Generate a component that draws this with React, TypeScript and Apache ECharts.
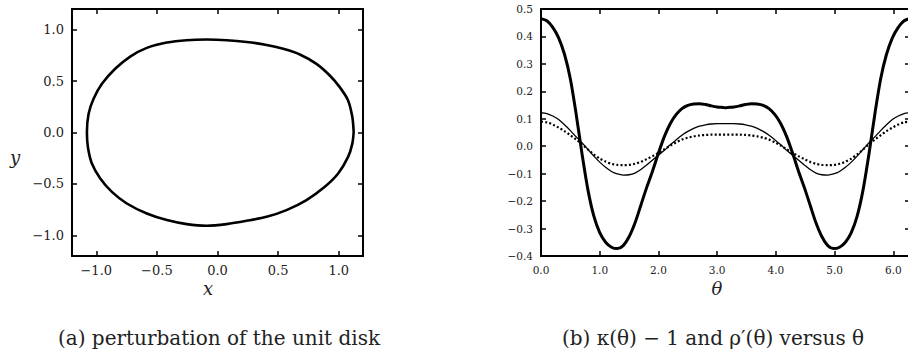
import React, { useEffect, useRef } from "react";
import * as echarts from "echarts";

// (a) perturbation of the unit disk: points along the closed curve
const diskX = [1.123, 1.112, 1.077, 1.008, 0.926, 0.816, 0.679, 0.542, 0.405, 0.24, 0.075, -0.089, -0.254, -0.418, -0.583, -0.72, -0.844, -0.953, -1.022, -1.063, -1.077, -1.069, -1.036, -0.967, -0.871, -0.748, -0.583, -0.418, -0.254, -0.089, 0.075, 0.24, 0.405, 0.569, 0.734, 0.885, 0.995, 1.077, 1.112, 1.123];
const diskY = [0.005, 0.15, 0.312, 0.441, 0.554, 0.667, 0.758, 0.813, 0.851, 0.88, 0.897, 0.903, 0.897, 0.874, 0.822, 0.738, 0.619, 0.473, 0.328, 0.183, 0.005, -0.141, -0.302, -0.447, -0.577, -0.69, -0.787, -0.851, -0.89, -0.906, -0.89, -0.858, -0.819, -0.754, -0.657, -0.528, -0.399, -0.237, -0.108, 0.005];
const diskTicks = [-1, -0.5, 0, 0.5, 1];

// (b) kappa(theta) - 1 and rho'(theta) versus theta
const theta = [0, 0.1, 0.2, 0.3, 0.4, 0.5, 0.6, 0.7, 0.8, 0.9, 1.0, 1.1, 1.2, 1.3, 1.4, 1.5, 1.6, 1.7, 1.8, 1.9, 2.0, 2.1, 2.2, 2.3, 2.4, 2.5, 2.6, 2.7, 2.8, 2.9, 3.0, 3.1, 3.1416, 3.1832, 3.2832, 3.3832, 3.4832, 3.5832, 3.6832, 3.7832, 3.8832, 3.9832, 4.0832, 4.1832, 4.2832, 4.3832, 4.4832, 4.5832, 4.6832, 4.7832, 4.8832, 4.9832, 5.0832, 5.1832, 5.2832, 5.3832, 5.4832, 5.5832, 5.6832, 5.7832, 5.8832, 5.9832, 6.0832, 6.1832, 6.2832];
const kappaMinusOne = [0.465, 0.457, 0.433, 0.395, 0.335, 0.245, 0.115, -0.03, -0.16, -0.255, -0.315, -0.35, -0.368, -0.373, -0.362, -0.33, -0.28, -0.215, -0.15, -0.09, -0.025, 0.035, 0.082, 0.115, 0.137, 0.149, 0.154, 0.155, 0.152, 0.147, 0.143, 0.141, 0.14, 0.141, 0.143, 0.147, 0.152, 0.155, 0.154, 0.149, 0.137, 0.115, 0.082, 0.035, -0.025, -0.09, -0.15, -0.215, -0.28, -0.33, -0.362, -0.373, -0.368, -0.35, -0.315, -0.255, -0.16, -0.03, 0.115, 0.245, 0.335, 0.395, 0.433, 0.457, 0.465];
const rhoPrimeThin = [0.122, 0.119, 0.11, 0.097, 0.078, 0.057, 0.034, 0.012, -0.012, -0.036, -0.058, -0.077, -0.092, -0.101, -0.105, -0.104, -0.098, -0.085, -0.068, -0.05, -0.033, -0.015, 0.005, 0.023, 0.04, 0.054, 0.065, 0.073, 0.078, 0.081, 0.082, 0.082, 0.082, 0.082, 0.082, 0.081, 0.078, 0.073, 0.065, 0.054, 0.04, 0.023, 0.005, -0.015, -0.033, -0.05, -0.068, -0.085, -0.098, -0.104, -0.105, -0.101, -0.092, -0.077, -0.058, -0.036, -0.012, 0.012, 0.034, 0.057, 0.078, 0.097, 0.11, 0.119, 0.122];
const rhoPrimeDotted = [0.09, 0.087, 0.079, 0.068, 0.055, 0.04, 0.024, 0.007, -0.012, -0.03, -0.045, -0.056, -0.064, -0.068, -0.069, -0.068, -0.064, -0.057, -0.047, -0.036, -0.024, -0.011, 0.002, 0.014, 0.024, 0.031, 0.036, 0.039, 0.041, 0.042, 0.042, 0.042, 0.042, 0.042, 0.042, 0.042, 0.041, 0.039, 0.036, 0.031, 0.024, 0.014, 0.002, -0.011, -0.024, -0.036, -0.047, -0.057, -0.064, -0.068, -0.069, -0.068, -0.064, -0.056, -0.045, -0.03, -0.012, 0.007, 0.024, 0.04, 0.055, 0.068, 0.079, 0.087, 0.09];
const thetaTicks = [0, 1, 2, 3, 4, 5, 6];
const valueTicks = [-0.4, -0.3, -0.2, -0.1, 0, 0.1, 0.2, 0.3, 0.4, 0.5];

const captionA = "(a) perturbation of the unit disk";
const captionB = "(b) κ(θ) − 1 and ρ′(θ) versus θ";

const FONT = "'DejaVu Serif', serif";
const fmt = (v: number) => (v < 0 ? "\u2212" : "") + Math.abs(v).toFixed(1);

function frameAxis(
  gridIndex: number,
  position: string,
  min: number,
  max: number,
  ticks: number[],
  showLabels: boolean,
  fontSize: number,
  tickLen: number
) {
  return {
    type: "value",
    gridIndex,
    position,
    min,
    max,
    axisLine: { show: true, onZero: false, lineStyle: { color: "#000", width: 2 } },
    axisTick: {
      show: true,
      inside: true,
      length: tickLen,
      customValues: ticks,
      lineStyle: { color: "#000", width: 1.5 },
    },
    axisLabel: {
      show: showLabels,
      customValues: ticks,
      formatter: fmt,
      color: "#222",
      fontFamily: FONT,
      fontSize,
      margin: 8,
    },
    splitLine: { show: false },
  };
}

export default function App() {
  const ref = useRef<HTMLDivElement>(null);
  useEffect(() => {
    if (!ref.current) return;
    const chart = echarts.init(ref.current, null, { renderer: "svg" });
    const lineStyle = (width: number, type: any = "solid") => ({ color: "#000", width, type });
    chart.setOption({
      animation: false,
      backgroundColor: "#fff",
      grid: [
        { left: 72, top: 9, width: 291, height: 247 },
        { left: 541, top: 9, width: 369, height: 247 },
      ],
      xAxis: [
        frameAxis(0, "bottom", -1.2, 1.2, diskTicks, true, 13, 5),
        frameAxis(0, "top", -1.2, 1.2, diskTicks, false, 13, 5),
        frameAxis(1, "bottom", 0, 6.2832, thetaTicks, true, 10.5, 5),
        frameAxis(1, "top", 0, 6.2832, thetaTicks, false, 10.5, 5),
      ],
      yAxis: [
        frameAxis(0, "left", -1.2, 1.2, diskTicks, true, 13, 5),
        frameAxis(0, "right", -1.2, 1.2, diskTicks, false, 13, 5),
        frameAxis(1, "left", -0.4, 0.5, valueTicks, true, 10.5, 5),
        frameAxis(1, "right", -0.4, 0.5, valueTicks, false, 10.5, 5),
      ],
      series: [
        {
          type: "line",
          xAxisIndex: 0,
          yAxisIndex: 0,
          data: diskX.map((x, i) => [x, diskY[i]]),
          smooth: 0.3,
          showSymbol: false,
          lineStyle: lineStyle(2.6),
        },
        {
          type: "line",
          xAxisIndex: 2,
          yAxisIndex: 2,
          data: theta.map((t, i) => [t, kappaMinusOne[i]]),
          smooth: 0.3,
          showSymbol: false,
          lineStyle: lineStyle(3),
        },
        {
          type: "line",
          xAxisIndex: 2,
          yAxisIndex: 2,
          data: theta.map((t, i) => [t, rhoPrimeThin[i]]),
          smooth: 0.3,
          showSymbol: false,
          lineStyle: lineStyle(1.3),
        },
        {
          type: "line",
          xAxisIndex: 2,
          yAxisIndex: 2,
          data: theta.map((t, i) => [t, rhoPrimeDotted[i]]),
          smooth: 0.3,
          showSymbol: false,
          lineStyle: lineStyle(2.2, [2, 2.2]),
        },
      ],
      graphic: [
        { type: "text", x: 208, y: 288, style: { text: "x", fill: "#222", font: `italic 18px ${FONT}`, align: "center", verticalAlign: "middle" } },
        { type: "text", x: 15, y: 157, style: { text: "y", fill: "#222", font: `italic 18px ${FONT}`, align: "center", verticalAlign: "middle" } },
        { type: "text", x: 717, y: 288, style: { text: "θ", fill: "#222", font: `italic 18px ${FONT}`, align: "center", verticalAlign: "middle" } },
        { type: "text", x: 219, y: 338, style: { text: captionA, fill: "#222", font: `20px ${FONT}`, align: "center", verticalAlign: "middle" } },
        { type: "text", x: 713, y: 338, style: { text: captionB, fill: "#222", font: `20px ${FONT}`, align: "center", verticalAlign: "middle" } },
      ],
    });
    return () => chart.dispose();
  }, []);
  return (
    <div style={{ position: "absolute", left: 0, top: 0, width: 908, height: 352, overflow: "hidden", background: "#fff" }}>
      <div ref={ref} style={{ width: 920, height: 352 }} />
    </div>
  );
}
